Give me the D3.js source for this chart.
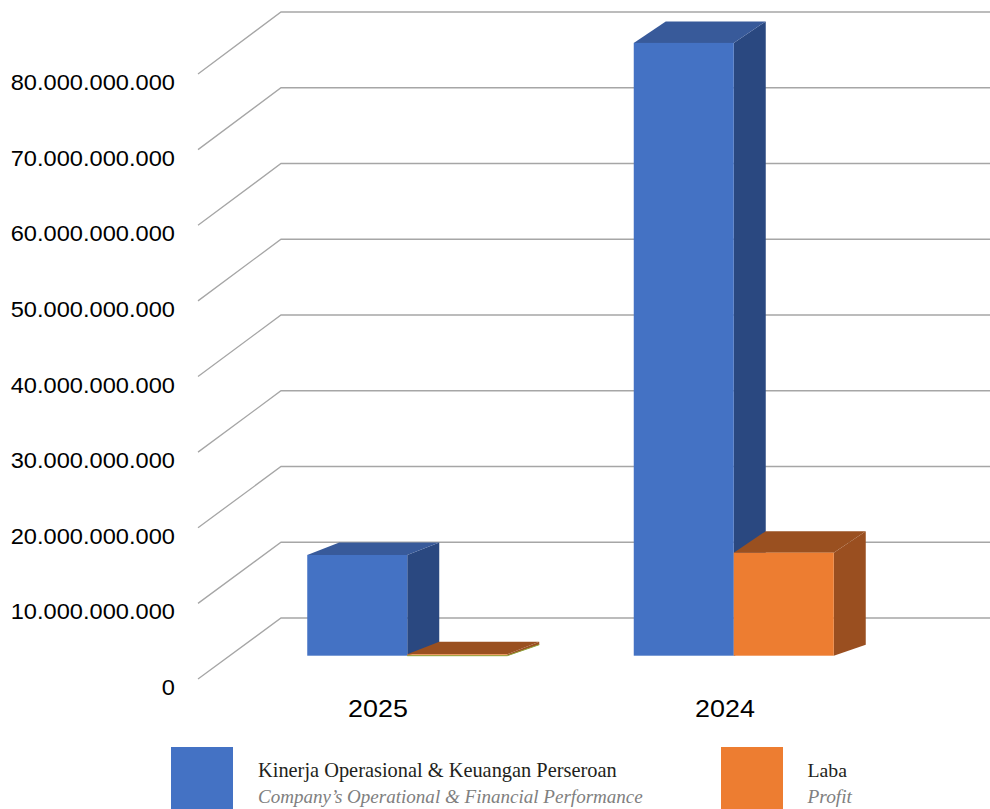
<!DOCTYPE html>
<html>
<head>
<meta charset="utf-8">
<script src="https://cdn.jsdelivr.net/npm/d3@7"></script>
<style>
  html, body { margin: 0; padding: 0; background: #fff; }
  svg { display: block; }
</style>
</head>
<body>
<svg id="chart" width="990" height="809"></svg>
<script>
// Categories and series
const years = ["2025", "2024"];
const seriesId = ["Kinerja Operasional & Keuangan Perseroan", "Laba"];
const seriesEn = ["Company’s Operational & Financial Performance", "Profit"];

// Values in Rupiah
const kinerja = [13300000000, 80900000000];
const laba = [180000000, 13600000000];

// Value axis ticks
const yTicks = [0, 10e9, 20e9, 30e9, 40e9, 50e9, 60e9, 70e9, 80e9];

const idLocale = d3.formatLocale({ decimal: ",", thousands: ".", grouping: [3], currency: ["Rp", ""] });
const fmt = idLocale.format(",d");

const svg = d3.select("#chart");

// Three vertical scales: back wall, left (front) edge of the floor, and the bars' plane
const yBack = d3.scaleLinear().domain([0, 80e9]).range([618, 12]);
const yLeft = d3.scaleLinear().domain([0, 80e9]).range([679, 74]);
const yBar = d3.scaleLinear().domain([0, 80e9]).range([655.7, 49.7]);

// Category positions: bars plane and the label line in front of it
const xBar = d3.scalePoint().domain(years).range([244, 897]).padding(0.5);
const xLab = d3.scalePoint().domain(years).range([204.5, 898.5]).padding(0.5);
const xSeries = d3.scaleBand().domain(seriesId).range([-100, 100]);

const wallLeft = 198, wallBack = 281, wallRight = 990;

// Gridlines: diagonal side-wall segment + back-wall line
const grid = svg.append("g").attr("stroke", "#a6a6a6").attr("stroke-width", 1.3).attr("fill", "none");
grid.selectAll("path").data(yTicks).join("path")
  .attr("d", v => `M${wallLeft},${yLeft(v)}L${wallBack},${yBack(v)}L${wallRight},${yBack(v)}`);

// Value axis labels
svg.append("g").selectAll("text").data(yTicks).join("text")
  .attr("transform", v => `translate(175,${yLeft(v) + 16}) scale(1.075,1)`)
  .attr("text-anchor", "end")
  .attr("font-family", "Liberation Sans, Arial, sans-serif")
  .attr("font-size", 22)
  .attr("fill", "#000")
  .text(v => fmt(v));

// Category labels
svg.append("g").selectAll("text").data(years).join("text")
  .attr("transform", d => `translate(${xLab(d)},717.3) scale(1.12,1)`)
  .attr("text-anchor", "middle")
  .attr("font-family", "Liberation Sans, Arial, sans-serif")
  .attr("font-size", 24)
  .attr("fill", "#000")
  .text(d => d);

// 3D bars
const colors = {
  [seriesId[0]]: { front: "#4472c4", top: "#385a9a", side: "#2a4880" },
  [seriesId[1]]: { front: "#ed7d31", top: "#9a5020", side: "#9a4f20" }
};
const depthX = 32, depthBottom = 11;
const depthTop = [12.5, 21.5];

const bars = [];
years.forEach((yr, i) => {
  bars.push({ year: yr, gi: i, series: seriesId[0], value: kinerja[i] });
  bars.push({ year: yr, gi: i, series: seriesId[1], value: laba[i] });
});

const gBars = svg.append("g");
bars.forEach(b => {
  const c = colors[b.series];
  const xl = xBar(b.year) + xSeries(b.series);
  const xr = xl + xSeries.bandwidth();
  const yt = yBar(b.value), yb = yBar(0);
  const dT = depthTop[b.gi];
  const g = gBars.append("g");
  g.append("path").attr("fill", c.side)
    .attr("d", `M${xr},${yt}L${xr + depthX},${yt - dT}L${xr + depthX},${yb - depthBottom}L${xr},${yb}Z`);
  g.append("path").attr("fill", c.top)
    .attr("d", `M${xl},${yt}L${xl + depthX},${yt - dT}L${xr + depthX},${yt - dT}L${xr},${yt}Z`);
  g.append("rect").attr("fill", c.front)
    .attr("x", xl).attr("y", yt).attr("width", xr - xl).attr("height", Math.max(0, yb - yt));
  if (yb - yt < 3) {
    // very low bar: thin edge line along the front and side
    g.append("path").attr("fill", "none").attr("stroke", "#8fa43a").attr("stroke-width", 1)
      .attr("d", `M${xl},${yb}L${xr},${yb}L${xr + depthX},${yb - depthBottom}`);
  }
});

// Legend
const legend = svg.append("g");
const legendItems = [
  { sq: 171, tx: 258, w1: 359, w2: 385 },
  { sq: 721, tx: 807.5, w1: 39.5, w2: 44.5 }
];
function fitText(sel, target, base) {
  sel.attr("font-size", base);
  const len = sel.node().getComputedTextLength();
  sel.attr("font-size", base * target / len);
}
seriesId.forEach((s, i) => {
  const it = legendItems[i];
  legend.append("rect").attr("x", it.sq).attr("y", 747).attr("width", 62).attr("height", 62)
    .attr("fill", colors[s].front);
  const t1 = legend.append("text").attr("x", it.tx).attr("y", 776.5)
    .attr("font-family", "Liberation Serif, 'Times New Roman', serif")
    .attr("fill", "#231f20").text(s);
  fitText(t1, it.w1, 20);
  const t2 = legend.append("text").attr("x", it.tx).attr("y", 802.5)
    .attr("font-family", "Liberation Serif, 'Times New Roman', serif")
    .attr("font-style", "italic")
    .attr("fill", "#808080").text(seriesEn[i]);
  fitText(t2, it.w2, 20);
});
</script>
</body>
</html>
